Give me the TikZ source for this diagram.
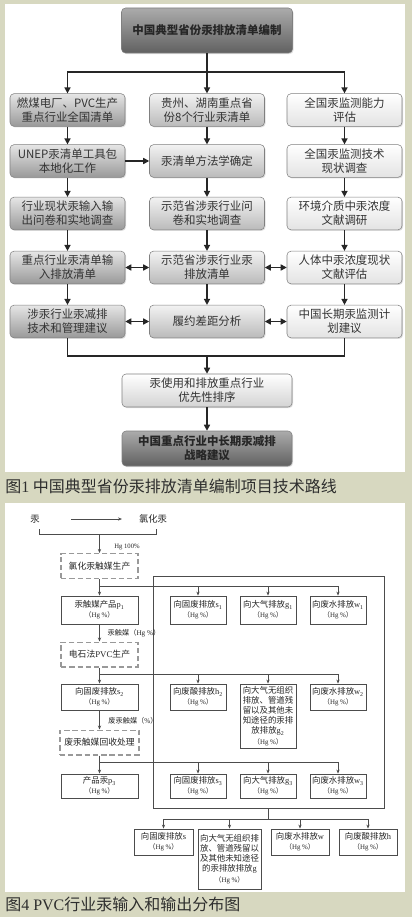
\documentclass[tikz,border=0pt]{standalone}
\usepackage{fontspec}
\setmainfont{Noto Sans CJK SC}
\newfontfamily\lser{Liberation Serif}
\usetikzlibrary{arrows.meta,shadows}
\definecolor{bgc}{RGB}{215,216,192}
\newcommand{\hgl}{{\fontsize{5.2}{6.5}\selectfont （{\lser Hg~\%}）}}
\newcommand{\sbs}[2]{{\lser #1\textsubscript{#2}}}
\begin{document}
\begin{tikzpicture}[x=0.75pt,y=-0.75pt,
  tb/.style={draw=black!50, rounded corners=3pt, align=center, inner sep=1pt, text=black!80,
    font=\fontsize{8.6}{10.5}\selectfont, minimum width=86.25pt, minimum height=24.5pt,
    drop shadow={opacity=0.25,shadow xshift=0.8pt,shadow yshift=-0.8pt}},
  colL/.style={tb, top color=black!10, bottom color=black!40},
  colM/.style={tb, top color=black!5, bottom color=black!27},
  colR/.style={tb, top color=white, bottom color=black!11},
  dark/.style={tb, top color=black!33, bottom color=black!62, font=\bfseries\fontsize{8.6}{10.5}\selectfont, text=black!85},
  ar/.style={line width=1.1pt, draw=black!85, -{Triangle[length=4.5pt,width=4.5pt]}},
  dar/.style={line width=1.1pt, draw=black!85, {Triangle[length=4.5pt,width=4.5pt]}-{Triangle[length=4.5pt,width=4.5pt]}},
  ln/.style={line width=1.1pt, draw=black!85},
  bx/.style={draw=black!70, line width=0.6pt, fill=white, align=center, inner sep=0.5pt,
    font=\fontsize{6.3}{7.6}\selectfont, minimum width=42pt, text=black!85},
  dbx/.style={draw=black!40, line width=1pt, dash pattern=on 4pt off 2.2pt, minimum width=57.75pt,
    minimum height=18.5pt, font=\fontsize{6.6}{8}\selectfont, text=black!85},
  bl/.style={draw=black!70, line width=0.6pt},
  ba/.style={bl, -{Stealth[length=3pt,width=2.4pt]}},
  lbl/.style={font=\fontsize{5.4}{6.5}\selectfont, text=black!85, inner sep=0.5pt},
  captxt/.style={anchor=west, font=\fontsize{12}{14}\selectfont, text=black!82, inner sep=0pt}
]
\path[use as bounding box] (0,0) rectangle (412,917);
\fill[bgc] (0,0) rectangle (412,917);
\fill[white] (5,4) rectangle (405,472);
\fill[white] (5,503) rectangle (405,892);

% ---------- Figure 1 ----------
\node[dark, minimum width=128.25pt, minimum height=33.75pt] (T) at (207,30.5) {中国典型省份汞排放清单编制};

\node[colL] (L1) at (67.5,110) {燃煤电厂、PVC生产\\重点行业全国清单};
\node[colM] (M1) at (207,110) {贵州、湖南重点省\\份8个行业汞清单};
\node[colR] (R1) at (344.5,110) {全国汞监测能力\\评估};

\node[colL] (L2) at (67.5,161) {UNEP汞清单工具包\\本地化工作};
\node[colM] (M2) at (207,161) {汞清单方法学确定};
\node[colR] (R2) at (344.5,161) {全国汞监测技术\\现状调查};

\node[colL] (L3) at (67.5,213.5) {行业现状汞输入输\\出问卷和实地调查};
\node[colM] (M3) at (207,213.5) {示范省涉汞行业问\\卷和实地调查};
\node[colR] (R3) at (344.5,213.5) {环境介质中汞浓度\\文献调研};

\node[colL] (L4) at (67.5,267.5) {重点行业汞清单输\\入排放清单};
\node[colM] (M4) at (207,267.5) {示范省涉汞行业汞\\排放清单};
\node[colR] (R4) at (344.5,267.5) {人体中汞浓度现状\\文献评估};

\node[colL] (L5) at (67.5,321.5) {涉汞行业汞减排\\技术和管理建议};
\node[colM] (M5) at (207,321.5) {履约差距分析};
\node[colR] (R5) at (344.5,321.5) {中国长期汞监测计\\划建议};

\node[tb, top color=white, bottom color=black!17, minimum width=127.5pt, minimum height=24.75pt] (P) at (207,390.5) {汞使用和排放重点行业\\优先性排序};
\node[dark, minimum width=127.5pt, minimum height=26.25pt] (F) at (207,448.5) {中国重点行业中长期汞减排\\战略建议};

\coordinate (jt) at (207,72);
\draw[ln] (T.south) -- (jt);
\draw[ar] (jt) -| (L1.north);
\draw[ar] (jt) -| (R1.north);
\draw[ar] (T.south) -- (M1.north);
\foreach \c in {L,M,R}{
  \draw[ar] (\c1.south) -- (\c2.north);
  \draw[ar] (\c2.south) -- (\c3.north);
  \draw[ar] (\c3.south) -- (\c4.north);
  \draw[ar] (\c4.south) -- (\c5.north);
}
\draw[ar] (L2.east) -- (M2.west);
\draw[dar] (L4.east) -- (M4.west);
\draw[dar] (M4.east) -- (R4.west);
\draw[dar] (L5.east) -- (M5.west);
\draw[dar] (M5.east) -- (R5.west);
\coordinate (jb) at (207,356);
\draw[ln] (L5.south) |- (jb) -| (R5.south);
\draw[ar] (jb) -- (P.north);
\draw[ar] (P.south) -- (F.north);

\node[captxt] (cap1) at (5,486) {图{\lser 1} 中国典型省份汞排放清单编制项目技术路线};

% ---------- Figure 4 ----------
\node[font=\fontsize{7}{8}\selectfont, text=black!85] (hg) at (35,519) {汞};
\node[font=\fontsize{7}{8}\selectfont, text=black!85] (hgcl) at (153,519) {氯化汞};
\coordinate (a1) at (71,519);
\coordinate (a2) at (122,519);
\draw[ba] (a1) -- (a2);
\coordinate (bkL) at (39,529);
\coordinate (bkR) at (156,529);
\draw[bl] (bkL) -- ++(0,5) -| (bkR);
\coordinate (bkM) at (99.5,534);
\node[lbl, font=\fontsize{5}{6}\selectfont\lser] (h100) at (127,547) {Hg 100\%};

\node[draw=black!70, line width=0.6pt, minimum width=173.25pt, minimum height=174pt] (BR) at (268.5,692) {};

\node[dbx] (D1) at (99.5,566) {氯化汞触媒生产};
\draw[ba] (bkM) -- (D1.north);

\node[bx, minimum width=57.75pt, minimum height=21pt] (P1) at (99.5,610) {汞触媒产品\sbs{p}{1}\\\hgl};
\node[bx, minimum height=21pt] (S1) at (198,610) {向固废排放\sbs{s}{1}\\\hgl};
\node[bx, minimum height=21pt] (G1) at (268,610) {向大气排放\sbs{g}{1}\\\hgl};
\node[bx, minimum height=21pt] (W1) at (338,610) {向废水排放\sbs{w}{1}\\\hgl};
\coordinate (j1) at (99.5,586);
\draw[bl] (D1.south) -- (j1);
\draw[ba] (j1) -- (P1.north);
\draw[ba] (j1) -| (S1.north);
\draw[ba] (j1) -| (G1.north);
\draw[ba] (j1) -| (W1.north);

\node[lbl] (lb1) at (134,633) {汞触媒（{\lser Hg \%}）};
\node[dbx] (D2) at (99.5,654.5) {电石法{\lser PVC}生产};
\draw[ba] (P1.south) -- (D2.north);

\node[bx, minimum width=57.75pt, minimum height=19.5pt] (S2) at (99.5,697) {向固废排放\sbs{s}{2}\\\hgl};
\node[bx, minimum height=19.5pt] (H2) at (198,697) {向废酸排放\sbs{h}{2}\\\hgl};
\node[bx, minimum height=48pt] (G2) at (268,716) {向大气无组织\\排放、管道残\\留以及其他未\\知途径的汞排\\放排放\sbs{g}{2}\\\hgl};
\node[bx, minimum height=19.5pt] (W2) at (338,697) {向废水排放\sbs{w}{2}\\\hgl};
\coordinate (j2) at (99.5,674);
\draw[bl] (D2.south) -- (j2);
\draw[ba] (j2) -- (S2.north);
\draw[ba] (j2) -| (H2.north);
\draw[ba] (j2) -| (G2.north);
\draw[ba] (j2) -| (W2.north);

\node[lbl] (lb2) at (133,721) {废汞触媒（{\lser \%}）};
\node[dbx] (D3) at (99.5,742.5) {废汞触媒回收处理};
\draw[ba] (S2.south) -- (D3.north);

\node[bx, minimum width=57.75pt, minimum height=18pt] (P3) at (99.5,786) {产品汞\sbs{p}{3}\\\hgl};
\node[bx, minimum height=18pt] (S3) at (198,786) {向固废排放\sbs{s}{3}\\\hgl};
\node[bx, minimum height=18pt] (G3) at (268,786) {向大气排放\sbs{g}{3}\\\hgl};
\node[bx, minimum height=18pt] (W3) at (338,786) {向废水排放\sbs{w}{3}\\\hgl};
\coordinate (j3) at (99.5,762);
\draw[bl] (D3.south) -- (j3);
\draw[ba] (j3) -- (P3.north);
\draw[ba] (j3) -| (S3.north);
\draw[ba] (j3) -| (G3.north);
\draw[ba] (j3) -| (W3.north);

\node[bx, minimum width=44.25pt, minimum height=19.5pt] (Sb) at (163.5,842) {向固废排放{\lser s}\\\hgl};
\node[bx, minimum width=47.25pt, minimum height=45pt] (Gb) at (229.5,859) {向大气无组织排\\放、管道残留以\\及其他未知途径\\的汞排放排放{\lser g}\\\hgl};
\node[bx, minimum width=43.5pt, minimum height=19.5pt] (Wb) at (300,842) {向废水排放{\lser w}\\\hgl};
\node[bx, minimum width=43.5pt, minimum height=19.5pt] (Hb) at (368,842) {向废酸排放{\lser h}\\\hgl};
\coordinate (j4) at (268.5,819);
\draw[bl] (BR.south) -- (j4);
\draw[ba] (j4) -| (Sb.north);
\draw[ba] (j4) -| (Gb.north);
\draw[ba] (j4) -| (Wb.north);
\draw[ba] (j4) -| (Hb.north);

\node[captxt] (cap2) at (5,904) {图{\lser 4 PVC}行业汞输入和输出分布图};
\end{tikzpicture}
\end{document}
